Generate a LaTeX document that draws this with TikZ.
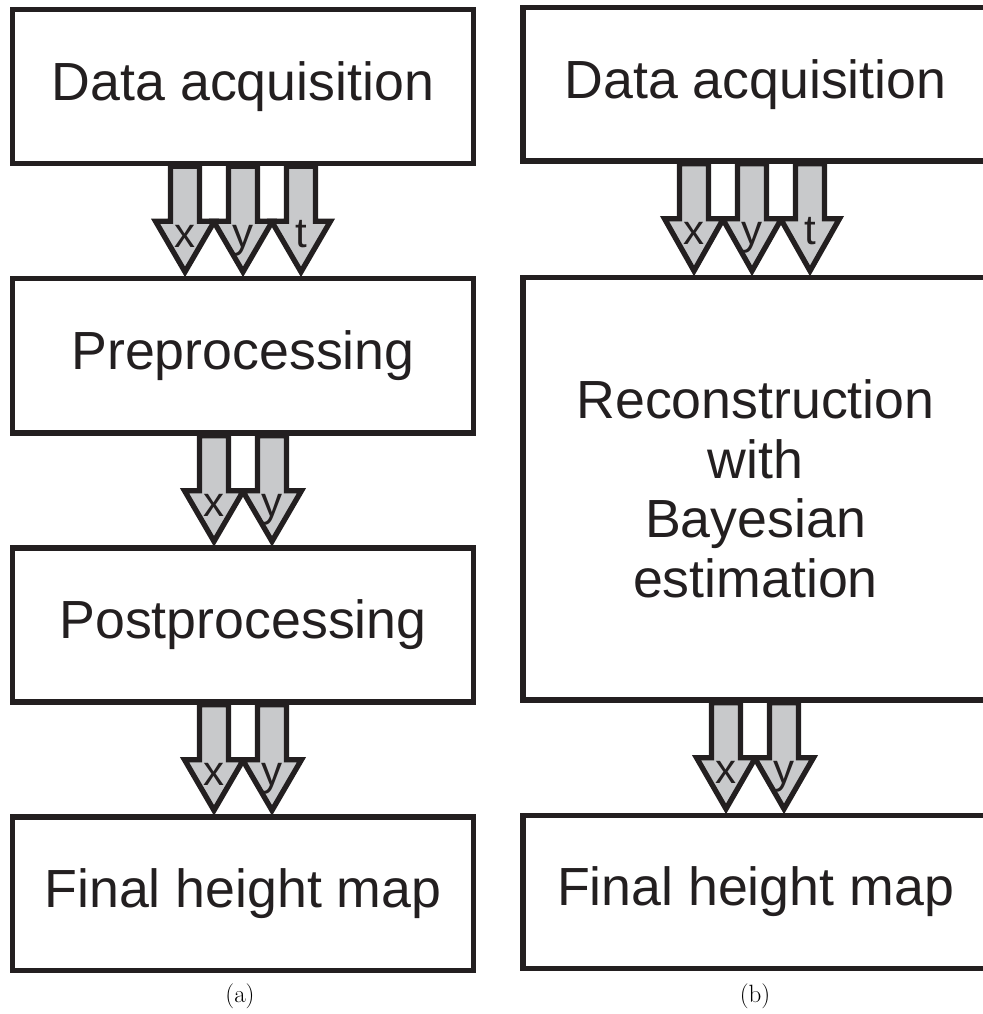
\documentclass[tikz,border=0pt]{standalone}
\usepackage{fontspec}
\newfontfamily\boxfont{Liberation Sans}
\usetikzlibrary{calc}
\definecolor{ink}{RGB}{35,31,32}
\definecolor{arrowgray}{RGB}{200,201,203}
\tikzset{
  stagebox/.style={draw=ink, line width=5.3pt, rectangle, inner sep=0pt,
    font=\boxfont\fontsize{53.7}{59.5}\selectfont, text=ink, align=center},
  barrow/.style={draw=ink, fill=arrowgray, line width=5.3pt, line join=miter},
  alabel/.style={anchor=base, inner sep=0pt, text=ink, font=\boxfont\fontsize{42}{44}\selectfont},
  caplabel/.style={inner sep=0pt, text=black, font=\fontsize{25}{28}\selectfont},
}
\newcommand\blockarrow[4]{%
  \path ($(#1.south)+(#3,0)$) coordinate (#1-#2-#4-s)
        ($(#2.north)+(#3,0)$) coordinate (#1-#2-#4-e);
  \draw[barrow] let \p1=(#1-#2-#4-s), \p2=(#1-#2-#4-e) in
    (\x1-14.5pt,\y1) -- (\x1-14.5pt,\y1-55pt) -- (\x1-29.5pt,\y1-55pt)
    -- (\x1,\y2+4pt) -- (\x1+29.5pt,\y1-55pt) -- (\x1+14.5pt,\y1-55pt)
    -- (\x1+14.5pt,\y1) -- cycle;
  \node[alabel] (#1-#2-#4) at ($(#1-#2-#4-s)+(0,81)$) {#4};
}
\begin{document}
\begin{tikzpicture}[x=1pt,y=-1pt]
\useasboundingbox (0,0) rectangle (982,1014);
% left column
\path
  (243,86.5) node[stagebox, minimum width=461pt, minimum height=154pt] (L1) {Data acquisition}
  (243,355.75) node[stagebox, minimum width=461pt, minimum height=154.5pt] (L2) {Preprocessing}
  (243,625) node[stagebox, minimum width=461pt, minimum height=154pt] (L3) {Postprocessing}
  (243,893.75) node[stagebox, minimum width=461pt, minimum height=153.5pt] (L4) {Final height map};
% right column
\path
  (755.5,84.25) node[stagebox, minimum width=465pt, minimum height=153.5pt] (R1) {Data acquisition}
  (755.5,488.75) node[stagebox, minimum width=465pt, minimum height=422.5pt] (R2) {Reconstruction\\with\\Bayesian\\estimation}
  (755.5,892) node[stagebox, minimum width=465pt, minimum height=153pt] (R3) {Final height map};
% arrows left
\blockarrow{L1}{L2}{-58}{x}
\blockarrow{L1}{L2}{0}{y}
\blockarrow{L1}{L2}{58}{t}
\blockarrow{L2}{L3}{-29}{x}
\blockarrow{L2}{L3}{29}{y}
\blockarrow{L3}{L4}{-29}{x}
\blockarrow{L3}{L4}{29}{y}
% arrows right
\blockarrow{R1}{R2}{-61.5}{x}
\blockarrow{R1}{R2}{-3.5}{y}
\blockarrow{R1}{R2}{54.5}{t}
\blockarrow{R2}{R3}{-29.5}{x}
\blockarrow{R2}{R3}{28.5}{y}
% captions
\node[caplabel] (capa) at (240,996) {(a)};
\node[caplabel] (capb) at (755,996) {(b)};
\end{tikzpicture}
\end{document}
